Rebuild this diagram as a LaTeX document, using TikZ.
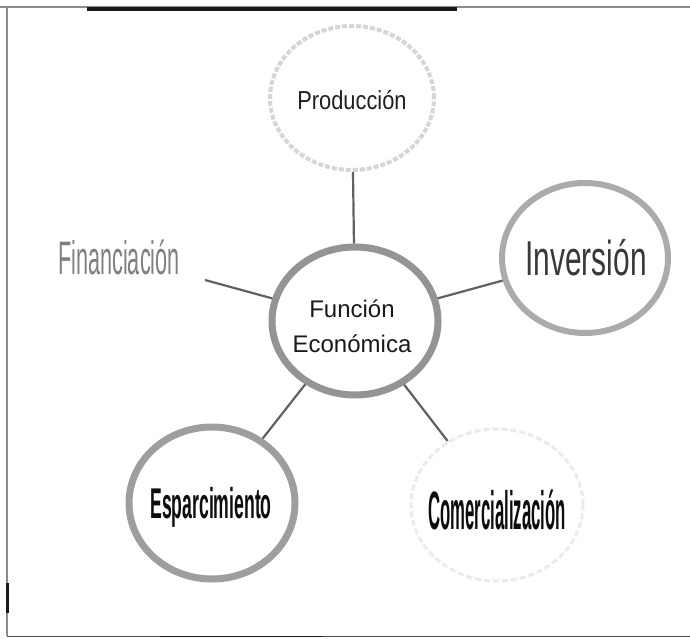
\documentclass[tikz,border=0pt]{standalone}
\usepackage{fontspec}
\setmainfont{Liberation Sans}
\usetikzlibrary{shapes.geometric}
\newcommand\squeezetxt[2]{\scalebox{#1}[1]{#2}}
\begin{document}
\begin{tikzpicture}[x=1pt,y=-1pt,
  ring/.style={ellipse,inner sep=0pt,minimum width=#1},
  link/.style={draw=black!62,line width=2.2pt},
  lbl/.style={inner sep=0pt,anchor=base}]
\useasboundingbox (0,0) rectangle (690,639);
\fill[white] (0,0) rectangle (690,639);
% frame
\draw[black!45,line width=2.5pt] (0,7) -- (690,7);
\draw[black!90,line width=4pt] (87,9) -- (457,9);
\draw[black!45,line width=2.5pt] (7,7) -- (7,636);
\draw[black!90,line width=3pt] (7,583) -- (7,613);
\draw[black!70,line width=1.6pt] (7,636.5) -- (690,636.5);
\draw[black!90,line width=1.8pt] (160,636.5) -- (322,636.5);
% rings
\node[ring=166pt,minimum height=148pt,draw=black!42,line width=7pt] (cen) at (355,321) {};
\node[ring=164pt,minimum height=144pt,draw=black!16,line width=4pt,dash pattern=on 5pt off 2pt] (prod) at (352,98) {};
\node[ring=166pt,minimum height=150pt,draw=black!33,line width=6pt] (inv) at (585,258) {};
\node[ring=166pt,minimum height=152pt,draw=black!38,line width=7pt] (esp) at (212,503) {};
\node[ring=172pt,minimum height=152pt,draw=black!8,line width=3pt,dash pattern=on 6pt off 3pt] (com) at (497,505) {};
% texts
\node[lbl] (prodt) at (352,110) {\fontsize{26}{26}\selectfont\color{black!88}\squeezetxt{0.84}{Producción}};
\node[lbl] (cent1) at (352,317) {\fontsize{24}{24}\selectfont\color{black!90}Función};
\node[lbl] (cent2) at (352,352) {\fontsize{24}{24}\selectfont\color{black!90}Económica};
\node[lbl] (fin) at (119,274) {\fontsize{47}{47}\selectfont\color{black!50}\squeezetxt{0.46}{Financiación}};
\node[lbl] (invt) at (586,275) {\fontsize{49}{49}\selectfont\color{black!78}\squeezetxt{0.61}{Inversión}};
\node[lbl] (espt) at (211,518) {\fontsize{43}{43}\selectfont\bfseries\color{black!95}\squeezetxt{0.41}{Esparcimiento}};
\node[lbl] (comt) at (497,529) {\fontsize{54}{54}\selectfont\color{black!95}\squeezetxt{0.31}{\bfseries Comercialización}};
% connectors
\coordinate (finend) at (205,280);
\draw[link] (cen) -- (finend);
\draw[link] (cen) -- (prod);
\draw[link] (cen) -- (inv);
\draw[link] (cen) -- (esp);
\draw[link] (cen) -- (com);
\end{tikzpicture}
\end{document}
